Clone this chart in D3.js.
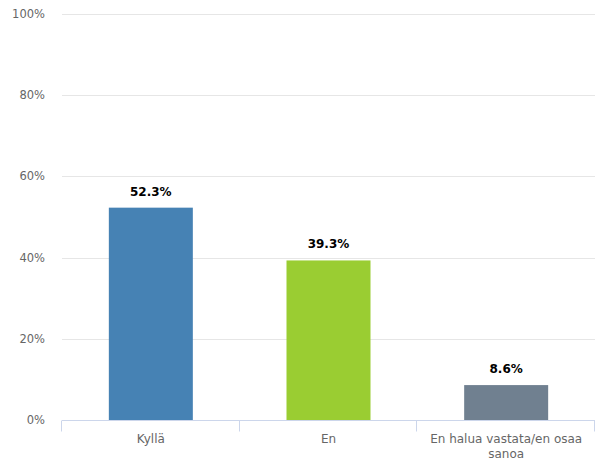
<!DOCTYPE html>
<html>
<head>
<meta charset="utf-8">
<script src="https://cdn.jsdelivr.net/npm/d3@7"></script>
<style>
  html, body { margin: 0; padding: 0; background: #fff; }
  svg { display: block; }
</style>
</head>
<body>
<svg id="chart" width="603" height="461"></svg>
<script>
const categories = ["Kyllä", "En", "En halua vastata/en osaa sanoa"];
const values = [52.3, 39.3, 8.6];
const colors = ["#4682b4", "#9acd32", "#708090"];
const yTicks = [0, 20, 40, 60, 80, 100];

const svg = d3.select("#chart");
const margin = { left: 62, right: 8, top: 14, bottom: 41 };
const W = 603, H = 461;

const x = d3.scaleBand().domain(categories).range([margin.left, 595]).paddingInner(0).paddingOuter(0);
const y = d3.scaleLinear().domain([0, 100]).range([420, 14]);
const font = "'DejaVu Sans', Verdana, sans-serif";

// gridlines
svg.append("g").selectAll("line").data(yTicks.filter(d => d > 0)).join("line")
  .attr("x1", margin.left).attr("x2", 595)
  .attr("y1", d => Math.round(y(d)) + 0.5).attr("y2", d => Math.round(y(d)) + 0.5)
  .attr("stroke", "#e6e6e6").attr("stroke-width", 1);

// y labels
svg.append("g").selectAll("text").data(yTicks).join("text")
  .attr("x", 45).attr("y", d => y(d) + 4)
  .attr("text-anchor", "end")
  .attr("font-family", font).attr("font-size", 11.5)
  .attr("fill", "#666666")
  .text(d => d + "%");

// bars
const bw = 84;
svg.append("g").selectAll("rect").data(values).join("rect")
  .attr("x", (d, i) => x(categories[i]) + x.bandwidth() / 2 - bw / 2)
  .attr("width", bw)
  .attr("y", d => y(d))
  .attr("height", d => y(0) - y(d))
  .attr("fill", (d, i) => colors[i]);

// data labels
svg.append("g").selectAll("text").data(values).join("text")
  .attr("x", (d, i) => x(categories[i]) + x.bandwidth() / 2)
  .attr("y", d => y(d) - 12)
  .attr("text-anchor", "middle")
  .attr("font-family", font).attr("font-size", 12).attr("font-weight", "bold")
  .attr("fill", "#000")
  .attr("stroke", "#fff").attr("stroke-width", 2).attr("paint-order", "stroke")
  .attr("stroke-linejoin", "round")
  .text(d => d.toFixed(1) + "%");

// x axis
const xAxis = d3.axisBottom(x).tickSize(0).tickFormat("");
const gx = svg.append("g").attr("transform", "translate(0,420.5)");
gx.append("line").attr("x1", margin.left).attr("x2", 595).attr("y1", 0).attr("y2", 0)
  .attr("stroke", "#ccd6eb");
const bounds = categories.map(c => x(c)).concat([x(categories[categories.length - 1]) + x.bandwidth()]);
gx.selectAll("line.tick").data(bounds).join("line").attr("class", "tick")
  .attr("x1", d => Math.round(d) - 0.5).attr("x2", d => Math.round(d) - 0.5)
  .attr("y1", 0).attr("y2", 11)
  .attr("stroke", "#ccd6eb");

// category labels (wrapped)
const catLines = [["Kyllä"], ["En"], ["En halua vastata/en osaa", "sanoa"]];
svg.append("g").selectAll("text").data(categories).join("text")
  .attr("x", d => x(d) + x.bandwidth() / 2)
  .attr("y", 443)
  .attr("text-anchor", "middle")
  .attr("font-family", font).attr("font-size", 12)
  .attr("fill", "#666666")
  .each(function(d, i) {
    const t = d3.select(this);
    catLines[i].forEach((ln, j) => {
      t.append("tspan").attr("x", x(d) + x.bandwidth() / 2).attr("dy", j === 0 ? 0 : 15).text(ln);
    });
  });
</script>
</body>
</html>
